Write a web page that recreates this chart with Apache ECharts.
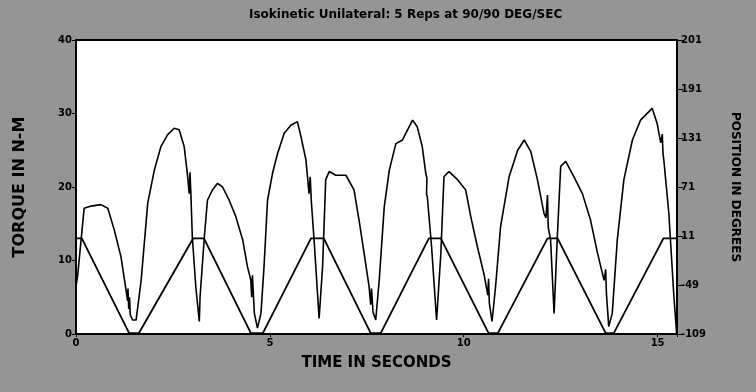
<!DOCTYPE html>
<html><head><meta charset="utf-8">
<script src="https://cdn.jsdelivr.net/npm/echarts@6/dist/echarts.min.js"></script>
<style>html,body{margin:0;padding:0;background:#959595}#c{width:756px;height:392px}</style>
</head><body><div id="c"></div>
<script>
// Time ticks (s)
const timeTicks = [0, 5, 10, 15];
const torqueTicks = [0, 10, 20, 30, 40];
// Right axis tick values (deg) and their printed labels
const posTickValues = [-109, -49, 11, 71, 131, 191, 251];
const posTickLabels = ["-109", "-49", "11", "71", "131", "191", "201"];

// Torque trace: [time s, torque N-m]
const torque = [
[0.0,6.5],[0.04,7.8],[0.21,17.1],[0.39,17.4],[0.64,17.6],[0.82,17.1],[0.99,14.1],[1.16,10.5],[1.29,6.0],
[1.33,4.5],[1.34,6.2],[1.36,3.4],[1.38,5.0],[1.40,2.6],[1.46,1.9],[1.55,1.9],[1.68,7.3],[1.85,17.8],
[2.02,22.3],[2.19,25.5],[2.36,27.1],[2.53,28.0],[2.66,27.8],[2.79,25.5],[2.88,21.4],[2.92,19.1],
[2.94,22.0],[2.96,19.5],[3.0,13.2],[3.09,6.4],[3.18,1.7],[3.2,5.1],[3.31,13.2],[3.39,18.2],[3.52,19.6],
[3.65,20.5],[3.78,20.0],[3.95,18.2],[4.12,16.0],[4.30,12.8],[4.42,9.2],[4.51,7.3],[4.53,5.0],[4.55,8.0],
[4.60,2.8],[4.68,0.8],[4.77,2.8],[4.85,9.2],[4.94,18.2],[5.07,21.9],[5.2,24.6],[5.37,27.3],[5.54,28.4],
[5.71,28.9],[5.8,26.9],[5.93,23.7],[6.01,19.1],[6.04,21.4],[6.07,18.0],[6.14,12.8],[6.27,2.1],[6.36,9.2],
[6.44,21.0],[6.53,22.1],[6.70,21.6],[6.96,21.6],[7.17,19.6],[7.30,15.5],[7.43,11.0],[7.56,6.4],
[7.6,4.0],[7.62,6.2],[7.66,3.0],[7.73,1.9],[7.82,7.3],[7.95,17.3],[8.08,22.3],[8.25,25.9],[8.42,26.4],
[8.68,29.1],[8.80,28.2],[8.93,25.5],[9.02,21.9],[9.05,21.2],[9.04,19.0],[9.06,18.7],[9.17,11.9],
[9.30,1.9],[9.41,11.0],[9.49,21.4],[9.62,22.1],[9.84,21.0],[10.05,19.6],[10.18,16.0],[10.35,11.9],
[10.52,8.2],[10.62,5.3],[10.64,7.5],[10.66,4.2],[10.73,1.7],[10.82,6.4],[10.95,14.6],[11.17,21.4],
[11.39,25.0],[11.56,26.4],[11.73,24.8],[11.90,21.0],[12.07,16.4],[12.12,15.8],[12.16,18.9],[12.18,14.5],
[12.24,12.8],[12.33,2.8],[12.41,12.8],[12.5,22.8],[12.63,23.5],[12.84,21.4],[13.06,19.1],[13.27,15.5],
[13.45,11.0],[13.62,7.3],[13.66,8.8],[13.68,5.5],[13.74,1.0],[13.83,2.8],[13.96,12.8],[14.13,21.0],
[14.35,26.4],[14.56,29.1],[14.86,30.7],[14.99,28.6],[15.08,26.0],[15.12,27.2],[15.14,24.5],
[15.16,23.7],[15.29,16.4],[15.42,5.1],[15.49,0.1]
];

// Position trace: [time s, degrees]
const position = [
[0.0,8],[0.15,8],[1.37,-108],[1.62,-108],[3.02,8],[3.30,8],[4.51,-108],[4.82,-108],[6.06,8],[6.39,8],
[7.60,-108],[7.86,-108],[9.10,8],[9.41,8],[10.64,-108],[10.88,-108],[12.16,8],[12.42,8],[13.66,-108],
[13.87,-108],[15.15,8],[15.5,8]
];

const chart = echarts.init(document.getElementById('c'), null, {renderer:'canvas'});
const bold = {color:'#000', fontWeight:'bold', fontFamily:'DejaVu Sans'};
chart.setOption({
  backgroundColor:'#959595',
  animation:false,
  title:{text:'Isokinetic Unilateral: 5 Reps at 90/90 DEG/SEC', left:244, top:4,
    textStyle:{color:'#000', fontSize:12, fontWeight:'bold', fontFamily:'DejaVu Sans'}},
  grid:{left:76, right:79, top:40, bottom:58, show:true, backgroundColor:'#fff', borderColor:'#000', borderWidth:2},
  xAxis:{type:'value', min:0, max:15.5, interval:5,
    name:'TIME IN SECONDS', nameLocation:'middle', nameGap:22,
    nameTextStyle:Object.assign({fontSize:15, letterSpacing:4}, bold),
    axisLine:{lineStyle:{color:'#000', width:2}}, axisTick:{show:true, length:3, lineStyle:{color:'#000'}},
    splitLine:{show:false},
    axisLabel:Object.assign({fontSize:10, margin:4, customValues:timeTicks}, bold)},
  yAxis:[
    {type:'value', min:0, max:40, interval:10, position:'left',
     name:'TORQUE IN N-M', nameLocation:'middle', nameGap:48, nameRotate:90,
     nameTextStyle:Object.assign({fontSize:16, letterSpacing:4}, bold),
     axisLine:{show:true, lineStyle:{color:'#000', width:2}}, axisTick:{show:true, length:4, lineStyle:{color:'#000'}},
     splitLine:{show:false},
     axisLabel:Object.assign({fontSize:10, margin:4, customValues:torqueTicks}, bold)},
    {type:'value', min:-109, max:251, position:'right',
     name:'POSITION IN DEGREES', nameLocation:'middle', nameGap:52, nameRotate:-90,
     nameTextStyle:Object.assign({fontSize:12, letterSpacing:1}, bold),
     axisLine:{show:true, lineStyle:{color:'#000', width:2}},
     axisTick:{show:true, length:6, customValues:posTickValues, lineStyle:{color:'#000'}},
     splitLine:{show:false},
     axisLabel:Object.assign({fontSize:10, margin:4, customValues:posTickValues,
       formatter:function(v){const i=posTickValues.indexOf(Math.round(v)); return i>=0?posTickLabels[i]:'';}}, bold)}
  ],
  series:[
    {type:'line', data:torque, yAxisIndex:0, symbol:'none', lineStyle:{color:'#000', width:1.6}},
    {type:'line', data:position, yAxisIndex:1, symbol:'none', lineStyle:{color:'#000', width:1.8}}
  ]
});
</script></body></html>
